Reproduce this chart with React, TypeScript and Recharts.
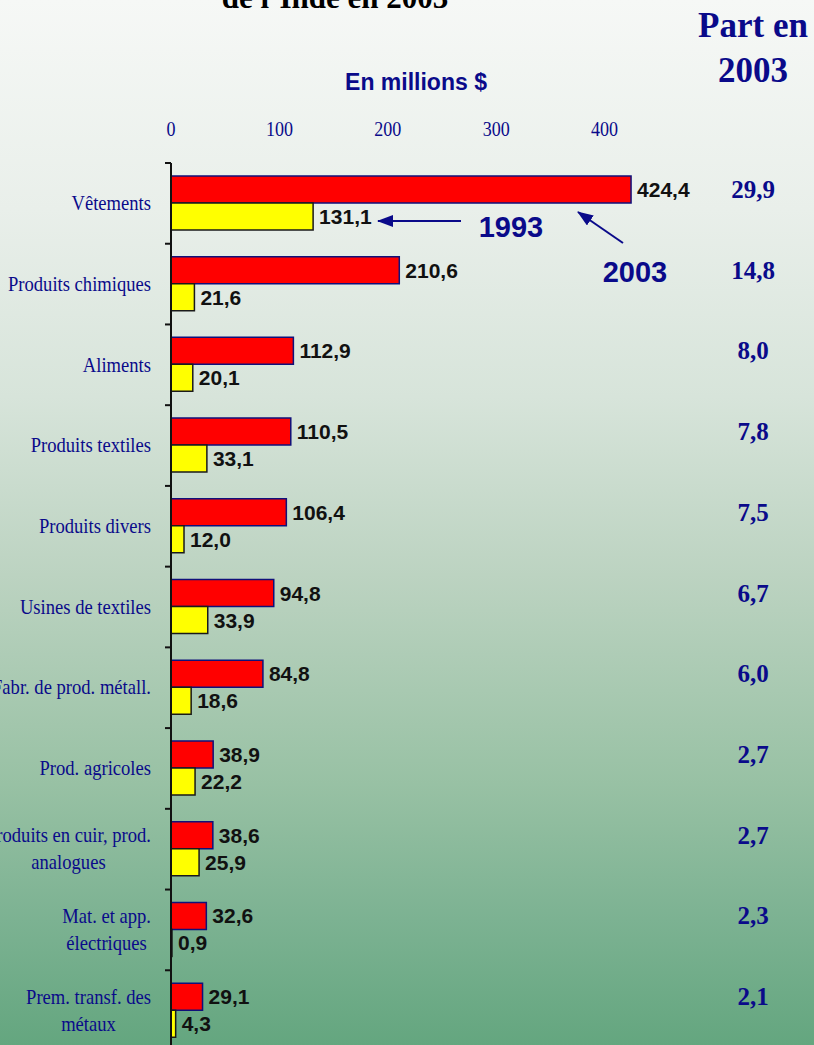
import { BarChart, Bar, XAxis, YAxis, LabelList } from "recharts";

// Principales exportations de l'Inde en 2003 (millions $)
const categories = [
  "Vêtements",
  "Produits chimiques",
  "Aliments",
  "Produits textiles",
  "Produits divers",
  "Usines de textiles",
  "Fabr. de prod. métall.",
  "Prod. agricoles",
  "Produits en cuir, prod.\nanalogues",
  "Mat. et app.\nélectriques",
  "Prem. transf. des\nmétaux",
];
const values2003 = [424.4, 210.6, 112.9, 110.5, 106.4, 94.8, 84.8, 38.9, 38.6, 32.6, 29.1];
const values1993 = [131.1, 21.6, 20.1, 33.1, 12.0, 33.9, 18.6, 22.2, 25.9, 0.9, 4.3];
const share2003 = [29.9, 14.8, 8.0, 7.8, 7.5, 6.7, 6.0, 2.7, 2.7, 2.3, 2.1];
const xTicks = [0, 100, 200, 300, 400];

const NAVY = "#0a0a8a";
const SERIF = "'Liberation Serif', 'Times New Roman', serif";
const SANS = "'Liberation Sans', Arial, sans-serif";

const CHART_W = 814;
const CHART_H = 1060;
const TOP = 163;
const BOTTOM = 9;
const PLOT_H = CHART_H - TOP - BOTTOM;
const BAND = PLOT_H / categories.length;

const data = categories.map((name, i) => ({
  name,
  v2003: values2003[i],
  v1993: values1993[i],
  share: share2003[i],
}));

const fmt = (v: any) => Number(v).toFixed(1).replace(".", ",");

let ctx: CanvasRenderingContext2D | null = null;
function textWidth(t: string, font: string) {
  if (!ctx) ctx = document.createElement("canvas").getContext("2d");
  if (!ctx) return t.length * 9;
  ctx.font = font;
  return ctx.measureText(t).width;
}

const CAT_SIZE = 20;
const CAT_SCALE = 0.93;

function CategoryTick(props: any) {
  const { x, y, payload } = props;
  const lines = String(payload.value).split("\n");
  const top = y - BAND / 2;
  const mark = <line x1={x + 14} x2={x + 20} y1={top} y2={top} stroke="#111" strokeWidth={2} />;
  if (lines.length === 1) {
    return (
      <g>
        {mark}
        <text
          transform={`translate(${x},${y}) scale(${CAT_SCALE},1)`}
          textAnchor="end"
          dominantBaseline="central"
          fontFamily={SERIF}
          fontSize={CAT_SIZE}
          fill={NAVY}
        >
          {lines[0]}
        </text>
      </g>
    );
  }
  const font = `${CAT_SIZE}px 'Liberation Serif'`;
  const maxW = Math.max(...lines.map((l) => textWidth(l, font))) * CAT_SCALE;
  const cx = x - maxW / 2;
  return (
    <g>
      {mark}
      {lines.map((l, i) => (
        <text
          key={i}
          transform={`translate(${cx},${y + (i - (lines.length - 1) / 2) * 27}) scale(${CAT_SCALE},1)`}
          textAnchor="middle"
          dominantBaseline="central"
          fontFamily={SERIF}
          fontSize={CAT_SIZE}
          fill={NAVY}
        >
          {l}
        </text>
      ))}
    </g>
  );
}

function ValueTick(props: any) {
  const { x, y, payload } = props;
  return (
    <text
      transform={`translate(${x},${y}) scale(0.82,1)`}
      textAnchor="middle"
      fontFamily={SERIF}
      fontSize={22}
      fill={NAVY}
    >
      {payload.value}
    </text>
  );
}

function ShareLabel(props: any) {
  const vb = props.viewBox || props;
  return (
    <text
      x={753}
      y={vb.y + vb.height / 2}
      textAnchor="middle"
      dominantBaseline="central"
      fontFamily={SERIF}
      fontWeight="bold"
      fontSize={25}
      fill={NAVY}
    >
      {fmt(props.value)}
    </text>
  );
}

const valueLabelStyle = {
  fill: "#111",
  fontSize: 21,
  fontWeight: "bold",
  fontFamily: SANS,
};

export default function App() {
  return (
    <div
      style={{
        position: "absolute",
        left: 0,
        top: 0,
        width: 814,
        height: 1045,
        overflow: "hidden",
        background:
          "linear-gradient(to bottom, #f6f8f6 0%, #e9efea 20%, #d7e4da 38%, #bcd3c1 55%, #98c1a4 75%, #7cb292 88%, #64a67f 100%)",
      }}
    >
      <BarChart
        width={CHART_W}
        height={CHART_H}
        data={data}
        layout="vertical"
        margin={{ top: 0, right: 101, bottom: BOTTOM, left: 0 }}
        barCategoryGap="16%"
        barGap={0}
      >
        <XAxis
          type="number"
          orientation="top"
          height={TOP}
          domain={[0, 500]}
          ticks={xTicks}
          axisLine={false}
          tickLine={false}
          tickSize={6}
          tickMargin={21}
          tick={<ValueTick />}
        />
        <YAxis
          type="category"
          dataKey="name"
          width={171}
          axisLine={{ stroke: "#111", strokeWidth: 2 }}
          tickLine={false}
          tickSize={6}
          tickMargin={14}
          interval={0}
          tick={<CategoryTick />}
        />
        <Bar dataKey="v2003" fill="#ff0000" stroke="#10107a" strokeWidth={1.5} isAnimationActive={false}>
          <LabelList dataKey="v2003" position="right" offset={6} formatter={fmt} style={valueLabelStyle} />
          <LabelList dataKey="share" content={<ShareLabel />} />
        </Bar>
        <Bar dataKey="v1993" fill="#ffff00" stroke="#1a1a1a" strokeWidth={1.5} isAnimationActive={false}>
          <LabelList dataKey="v1993" position="right" offset={6} formatter={fmt} style={valueLabelStyle} />
        </Bar>
      </BarChart>

      <svg
        width={814}
        height={1045}
        style={{ position: "absolute", left: 0, top: 0, pointerEvents: "none" }}
      >
        <defs>
          <marker
            id="arrow"
            markerWidth="16"
            markerHeight="12"
            refX="15"
            refY="6"
            orient="auto"
            markerUnits="userSpaceOnUse"
          >
            <path d="M0,0 L16,6 L0,12 Z" fill={NAVY} />
          </marker>
        </defs>
        <text x={335} y={8} textAnchor="middle" fontFamily={SERIF} fontWeight="bold" fontSize={31} fill="#000">
          de l’Inde en 2003
        </text>
        <text x={416} y={90} textAnchor="middle" fontFamily={SANS} fontWeight="bold" fontSize={23} fill={NAVY}>
          En millions $
        </text>
        <text x={753} y={37} textAnchor="middle" fontFamily={SERIF} fontWeight="bold" fontSize={35} fill={NAVY}>
          Part en
        </text>
        <text x={753} y={82} textAnchor="middle" fontFamily={SERIF} fontWeight="bold" fontSize={35} fill={NAVY}>
          2003
        </text>
        <line x1={461} y1={221} x2={378} y2={221} stroke={NAVY} strokeWidth={2} markerEnd="url(#arrow)" />
        <text x={511} y={237} textAnchor="middle" fontFamily={SANS} fontWeight="bold" fontSize={29} fill={NAVY}>
          1993
        </text>
        <line x1={623} y1={243} x2={578} y2={212} stroke={NAVY} strokeWidth={2} markerEnd="url(#arrow)" />
        <text x={635} y={282} textAnchor="middle" fontFamily={SANS} fontWeight="bold" fontSize={29} fill={NAVY}>
          2003
        </text>
      </svg>
    </div>
  );
}
